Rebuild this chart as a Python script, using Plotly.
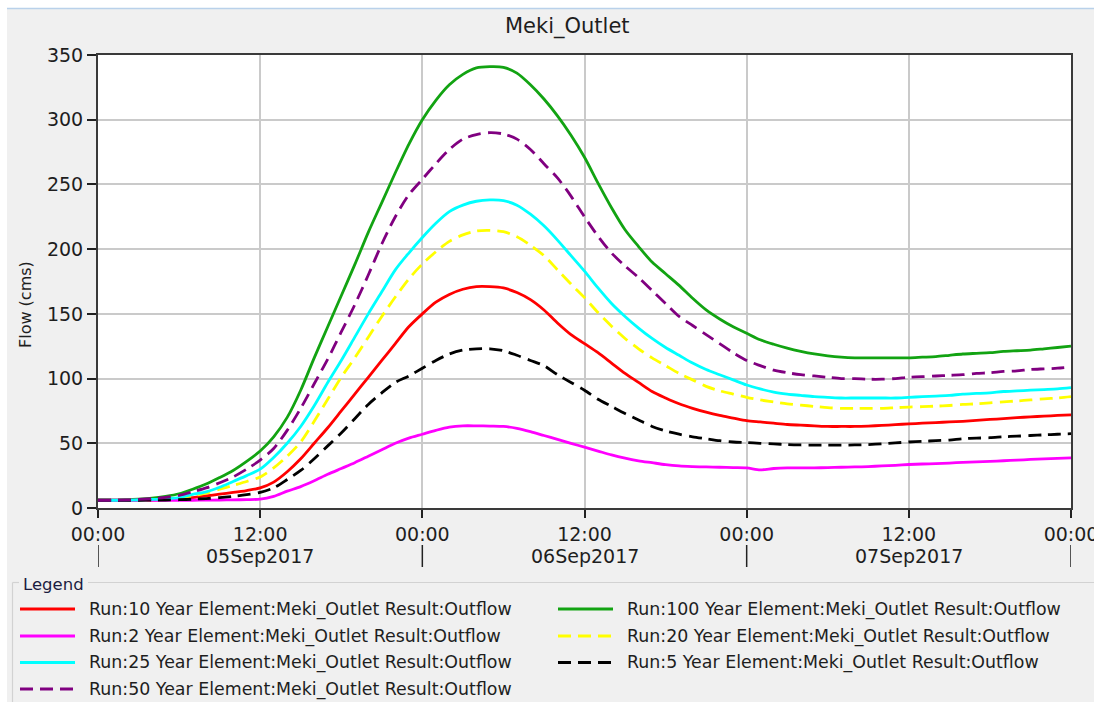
import pandas as pd
import plotly.graph_objects as go

# ---------------------------------------------------------------------------
# Hourly outflow at Meki_Outlet (cms), 05 Sep 2017 00:00 .. 08 Sep 2017 00:00
# ---------------------------------------------------------------------------
hours = list(range(0, 73))
start_time = pd.Timestamp("2017-09-05 00:00")
times = [start_time + pd.Timedelta(hours=h) for h in hours]

flow_10yr = [
    6, 6, 6, 6, 6.2, 6.5, 7, 8, 9.3, 10.7, 12, 13.5,
    15.5, 20, 28, 38, 50, 62, 75, 88, 101, 114, 127, 140,
    150, 159, 165, 169, 171, 171, 170, 166.5, 161, 153, 143, 134,
    127, 120, 112, 104, 97, 90, 85, 80.5, 77, 74, 71.5, 69.5,
    67.5, 66.5, 65.5, 64.5, 64, 63.5, 63, 63, 63, 63.3, 63.8, 64.4,
    65, 65.5, 66, 66.5, 67, 67.7, 68.4, 69, 69.8, 70.4, 71, 71.5, 72,
]
flow_100yr = [
    6, 6, 6.3, 6.8, 7.6, 9, 11, 14.5, 18.5, 23.5, 29, 36,
    44, 55, 70, 91, 116, 140, 164, 188, 213, 236, 259, 281,
    300, 315, 327, 335, 340, 341, 340.5, 336, 327, 316, 303, 288,
    271, 251, 232, 215, 202, 190, 181, 172, 162, 153, 146, 140,
    135, 130, 126.5, 123.5, 121, 119, 117.5, 116.5, 116, 116, 116, 116,
    116, 116.5, 117, 118, 119, 119.5, 120, 121, 121.5, 122, 123, 124, 125,
]
flow_2yr = [
    6, 6, 6, 6, 6, 6, 6, 6, 6.1, 6.2, 6.3, 6.5,
    6.8, 9, 13, 16.5, 21, 26, 30.5, 35, 40, 45, 50, 54,
    57, 60, 62.5, 63.5, 63.5, 63.3, 63, 61.5, 59, 56, 53, 50,
    47, 44, 41, 38.5, 36.5, 35, 33.5, 32.5, 32, 31.7, 31.5, 31.2,
    31, 29.5, 30.5, 31, 31, 31, 31.2, 31.5, 31.7, 32, 32.5, 33,
    33.6, 34, 34.3, 34.7, 35.3, 35.7, 36, 36.5, 37, 37.5, 38, 38.4, 38.8,
]
flow_20yr = [
    6, 6, 6, 6.1, 6.4, 6.9, 7.6, 9.5, 11.5, 14.5, 17.5, 20.5,
    24, 31, 40, 51, 67, 84, 101, 116, 132, 148, 163, 177,
    188.5, 198, 206, 211, 214, 214.5, 213.5, 209.5, 203, 195, 184, 173,
    162.6, 151, 140.5, 131, 123, 116, 110, 104, 99, 94, 90.5, 88,
    85.5, 83.5, 82, 80.5, 79.5, 78.5, 77.5, 77, 77, 77, 77, 77.5,
    78, 78.3, 78.7, 79.2, 80, 80.5, 81.2, 82, 82.7, 83.5, 84.3, 85, 86,
]
flow_25yr = [
    6, 6, 6, 6.2, 6.6, 7.1, 8, 10.5, 12.5, 16, 20.5, 25,
    30, 39, 50, 63, 79, 97, 114, 132, 150, 167, 184, 197,
    209, 220, 229, 234, 237, 238, 237.5, 234, 227, 218, 207, 195,
    183, 170, 158, 148, 139, 131, 124, 118, 112, 107, 103, 99,
    95, 92, 89.5, 88, 87, 86, 85.5, 85, 85, 85, 85, 85,
    85.5, 86, 86.5, 87, 88, 88.5, 89, 90, 90.5, 91, 91.5, 92, 93,
]
flow_5yr = [
    6, 6, 6, 6, 6.1, 6.2, 6.4, 6.8, 7.3, 8, 9, 10.3,
    12, 15.5, 22, 29, 38, 48, 58, 69, 80, 89, 97, 102,
    108, 114, 119, 122, 123, 123, 121.5, 118, 114, 110, 103, 97,
    91, 84, 78.5, 73, 68, 63, 59.5, 57, 55, 53.5, 52, 51,
    50.5, 50, 49.5, 49, 48.7, 48.6, 48.6, 48.6, 48.7, 49, 49.5, 50.3,
    51, 51.5, 52, 52.5, 53.5, 54, 54.3, 55, 55.5, 56, 56.5, 57, 57.4,
]
flow_50yr = [
    6, 6, 6.2, 6.6, 7.2, 8.2, 9.8, 12.5, 15.5, 19.5, 24, 30,
    37, 46, 60, 77, 96, 115, 136, 157, 180, 204, 225, 242,
    254, 266, 277, 285, 288.5, 290, 289, 285, 277, 266, 255, 241,
    225, 210, 197, 187, 178, 168, 158, 148, 141, 134, 127, 120,
    114, 110, 106.5, 104.5, 103, 102, 101, 100, 100, 99.5, 99.5, 100,
    101, 101.5, 102, 102.5, 103, 104, 104.5, 105.5, 106, 107, 107.5, 108, 109,
]

run_labels = [
    "Run:10 Year Element:Meki_Outlet Result:Outflow",
    "Run:100 Year Element:Meki_Outlet Result:Outflow",
    "Run:2 Year Element:Meki_Outlet Result:Outflow",
    "Run:20 Year Element:Meki_Outlet Result:Outflow",
    "Run:25 Year Element:Meki_Outlet Result:Outflow",
    "Run:5 Year Element:Meki_Outlet Result:Outflow",
    "Run:50 Year Element:Meki_Outlet Result:Outflow",
]
run_flows = [flow_10yr, flow_100yr, flow_2yr, flow_20yr, flow_25yr, flow_5yr, flow_50yr]

y_ticks = [0, 50, 100, 150, 200, 250, 300, 350]
chart_title = "Meki_Outlet"
y_title = "Flow (cms)"

# ---------------------------------------------------------------------------
# Styling
# ---------------------------------------------------------------------------
DASH = "13px,7px"
run_styles = [
    dict(color="#ff0000", dash="solid"),
    dict(color="#12a312", dash="solid"),
    dict(color="#ff00ff", dash="solid"),
    dict(color="#ffff00", dash=DASH),
    dict(color="#00ffff", dash="solid"),
    dict(color="#000000", dash=DASH),
    dict(color="#800080", dash=DASH),
]

FONT = "DejaVu Sans"
TEXT = "#1e1e1e"
TICK_SIZE = 19
FIG_W, FIG_H = 1094, 702
PLOT_L, PLOT_R, PLOT_T, PLOT_B = 98, 1071, 55, 508


def px_x(px):
    return (px - PLOT_L) / (PLOT_R - PLOT_L)


def px_y(py):
    return (PLOT_B - py) / (PLOT_B - PLOT_T)


fig = go.Figure()
for label, flows, style in zip(run_labels, run_flows, run_styles):
    fig.add_trace(go.Scatter(
        x=times, y=flows, name=label, mode="lines",
        line=dict(color=style["color"], dash=style["dash"], width=2.8,
                  shape="spline", smoothing=0.8),
        showlegend=False,
    ))

# x ticks every 12 h, date labels under each day
tick_times = [start_time + pd.Timedelta(hours=h) for h in range(0, 73, 12)]
tick_text = [t.strftime("%H:%M") for t in tick_times]
day_starts = [start_time + pd.Timedelta(days=d) for d in range(4)]

shapes = []
annotations = []

# window / panel decoration
shapes.append(dict(type="rect", xref="paper", yref="paper",
                   x0=px_x(0), x1=px_x(FIG_W), y0=px_y(0), y1=px_y(8),
                   fillcolor="#ffffff", line=dict(width=0), layer="below"))
shapes.append(dict(type="rect", xref="paper", yref="paper",
                   x0=px_x(0), x1=px_x(7), y0=px_y(0), y1=px_y(FIG_H),
                   fillcolor="#ffffff", line=dict(width=0), layer="below"))
shapes.append(dict(type="line", xref="paper", yref="paper",
                   x0=px_x(7), x1=px_x(FIG_W), y0=px_y(8.5), y1=px_y(8.5),
                   line=dict(color="#b9d1ea", width=1.5)))

# day separators below the time labels
for d in day_starts:
    shapes.append(dict(type="line", xref="x", yref="paper",
                       x0=d, x1=d, y0=px_y(545), y1=px_y(567),
                       line=dict(color="#222222", width=1.5)))
for d in day_starts[:-1]:
    annotations.append(dict(
        x=d + pd.Timedelta(hours=12), y=px_y(556), xref="x", yref="paper",
        text=d.strftime("%d%b%Y"), showarrow=False,
        font=dict(family=FONT, size=TICK_SIZE, color=TEXT),
        xanchor="center", yanchor="middle"))

# title and y-axis title
annotations.append(dict(x=px_x(567), y=px_y(27), xref="paper", yref="paper",
                        text=chart_title, showarrow=False,
                        font=dict(family=FONT, size=21, color=TEXT),
                        xanchor="center", yanchor="middle"))
annotations.append(dict(x=px_x(25), y=px_y(305), xref="paper", yref="paper",
                        text=y_title, showarrow=False, textangle=-90,
                        font=dict(family=FONT, size=16, color=TEXT),
                        xanchor="center", yanchor="middle"))

# legend group box
BOX = "#d2d2d2"
shapes.append(dict(type="line", xref="paper", yref="paper",
                   x0=px_x(12.5), x1=px_x(19), y0=px_y(582.5), y1=px_y(582.5),
                   line=dict(color=BOX, width=1.2)))
shapes.append(dict(type="line", xref="paper", yref="paper",
                   x0=px_x(88), x1=px_x(FIG_W), y0=px_y(582.5), y1=px_y(582.5),
                   line=dict(color=BOX, width=1.2)))
shapes.append(dict(type="line", xref="paper", yref="paper",
                   x0=px_x(12.5), x1=px_x(12.5), y0=px_y(582.5), y1=px_y(FIG_H),
                   line=dict(color=BOX, width=1.2)))
annotations.append(dict(x=px_x(21), y=px_y(584), xref="paper", yref="paper",
                        text="Legend", showarrow=False,
                        font=dict(family=FONT, size=16.5, color="#1c1c40"),
                        xanchor="left", yanchor="middle"))

# legend entries, filled row by row in two columns
col_x = [20, 558]
row_y = [609, 636, 662.5, 689]
for i, (label, style) in enumerate(zip(run_labels, run_styles)):
    cx = col_x[i % 2]
    ry = row_y[i // 2]
    shapes.append(dict(type="line", xref="paper", yref="paper",
                       x0=px_x(cx), x1=px_x(cx + 55), y0=px_y(ry), y1=px_y(ry),
                       line=dict(color=style["color"], dash=style["dash"], width=3)))
    annotations.append(dict(x=px_x(cx + 67), y=px_y(ry), xref="paper", yref="paper",
                            text=label, showarrow=False,
                            font=dict(family=FONT, size=17.4, color=TEXT),
                            xanchor="left", yanchor="middle"))

fig.update_layout(
    width=FIG_W, height=FIG_H,
    margin=dict(l=PLOT_L, r=FIG_W - PLOT_R, t=PLOT_T, b=FIG_H - PLOT_B, pad=0,
                autoexpand=False),
    paper_bgcolor="#f0f0f0",
    plot_bgcolor="#ffffff",
    showlegend=False,
    shapes=shapes,
    annotations=annotations,
    xaxis=dict(
        type="date", range=[times[0], times[-1]],
        tickmode="array", tickvals=tick_times, ticktext=tick_text,
        ticklabeloverflow="allow", automargin=False,
        showgrid=True, gridcolor="#cacaca", gridwidth=1.5,
        showline=True, linecolor="#3a3a3a", linewidth=2, mirror=True,
        ticks="outside", ticklen=8, tickwidth=1.5, tickcolor="#222222",
        tickfont=dict(family=FONT, size=TICK_SIZE, color=TEXT),
        zeroline=False,
    ),
    yaxis=dict(
        range=[0, 350], tickmode="array", tickvals=y_ticks, automargin=False,
        showgrid=True, gridcolor="#cacaca", gridwidth=1.5,
        showline=True, linecolor="#3a3a3a", linewidth=2, mirror=True,
        ticks="outside", ticklen=9, tickwidth=1.5, tickcolor="#222222",
        tickfont=dict(family=FONT, size=TICK_SIZE, color=TEXT),
        zeroline=False,
    ),
)

fig.write_html("out.html", config={"displayModeBar": False})
